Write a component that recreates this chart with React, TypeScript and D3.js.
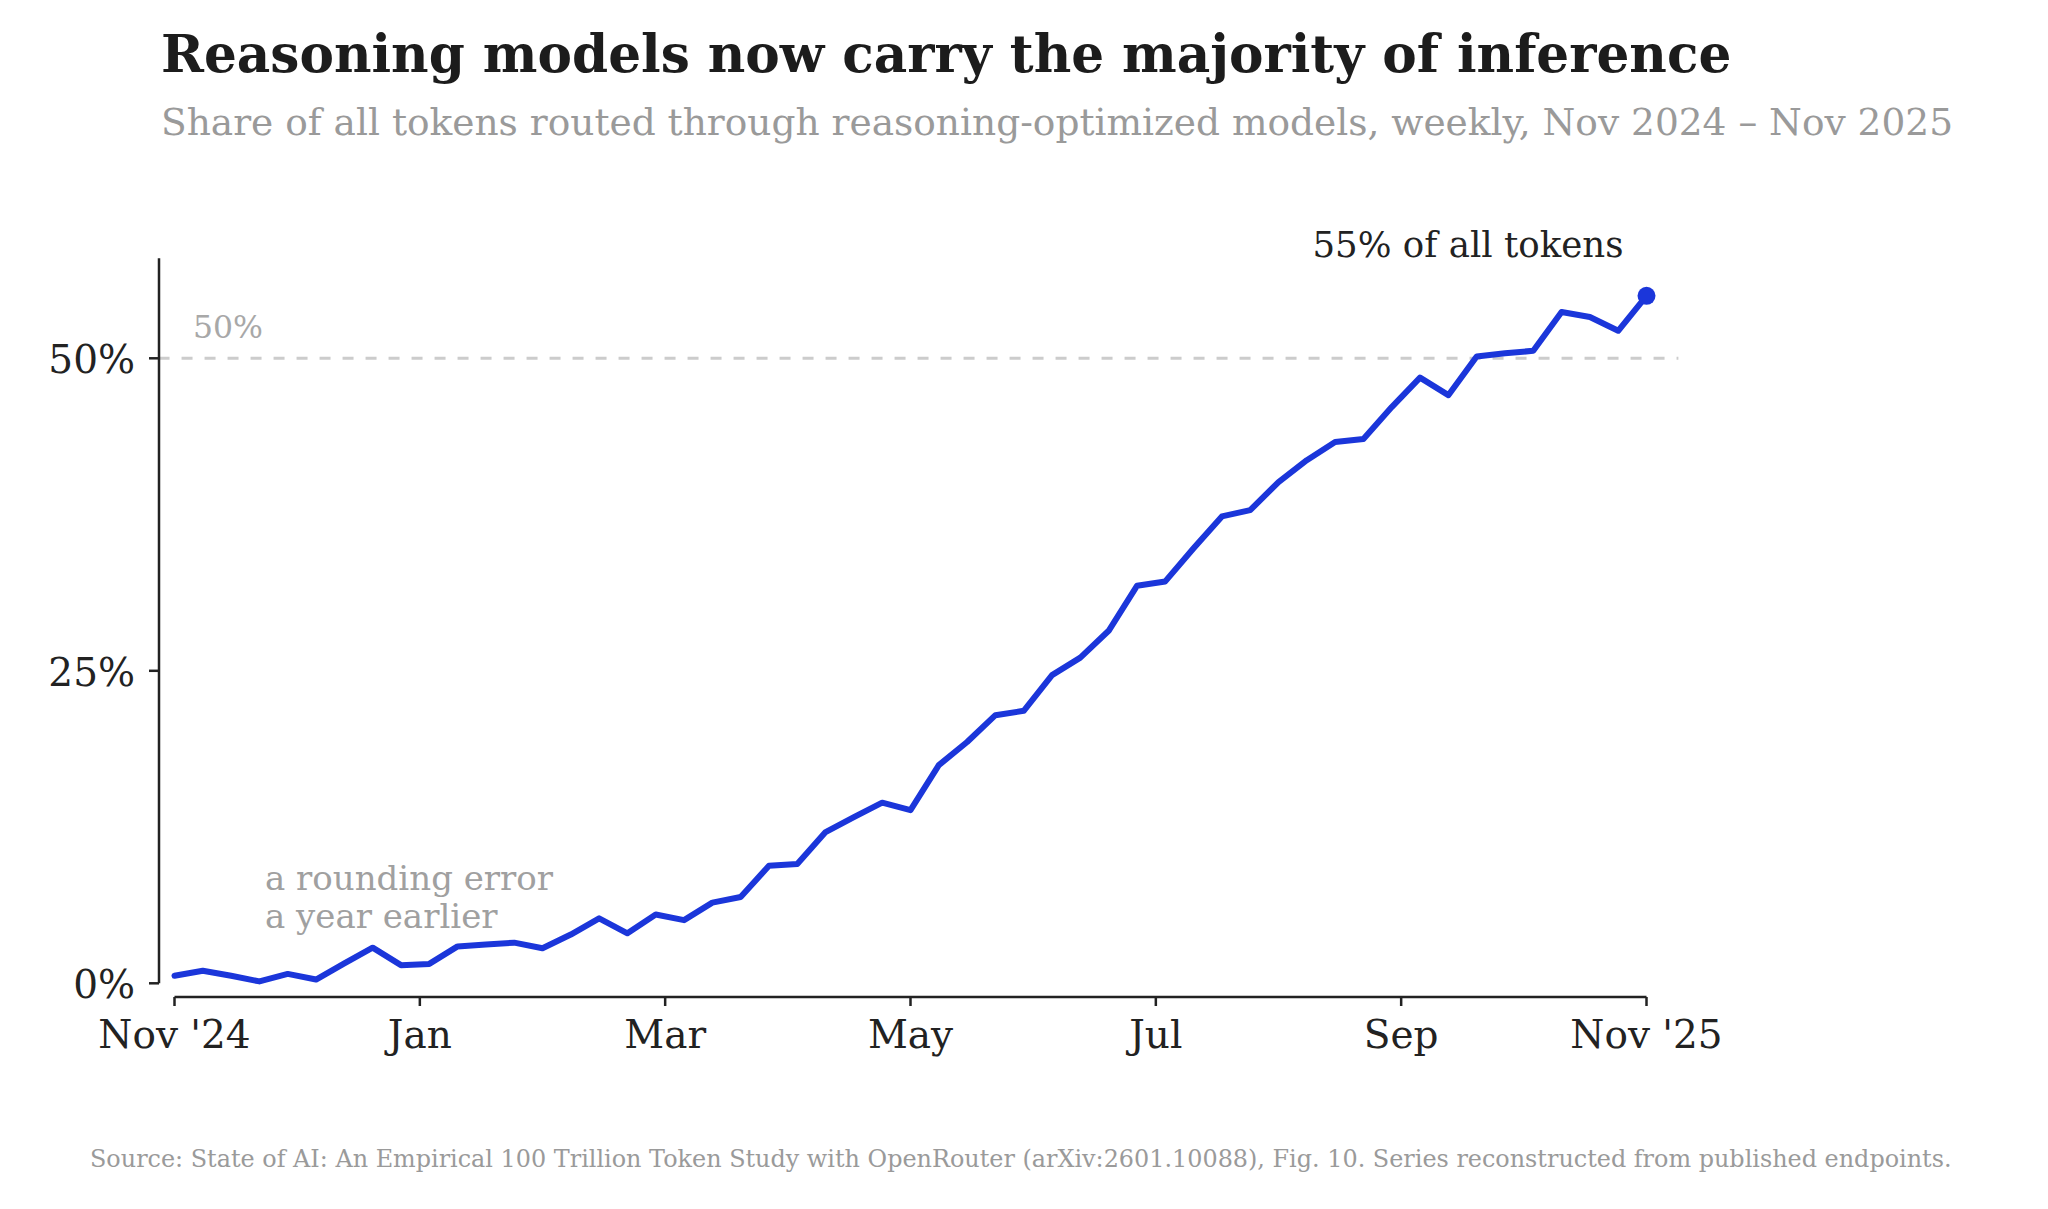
import { useEffect, useRef } from "react";
import { line, scaleLinear, select } from "d3";

// weekly share of tokens (%) on reasoning-optimized models, Nov 2024 -> Nov 2025
const shareValues = [
  0.6, 1.0, 0.6, 0.15, 0.75, 0.3, 1.6, 2.85, 1.45, 1.55, 2.95, 3.1, 3.25, 2.8,
  3.9, 5.2, 4.0, 5.5, 5.05, 6.45, 6.9, 9.4, 9.55, 12.1, 13.3, 14.45, 13.85,
  17.45, 19.3, 21.45, 21.8, 24.65, 26.05, 28.2, 31.8, 32.15, 34.8, 37.35, 37.85,
  40.1, 41.85, 43.3, 43.55, 46.1, 48.45, 47.05, 50.15, 50.4, 50.6, 53.7, 53.3,
  52.2, 55.0,
];

const monthTicks = [0, 2, 4, 6, 8, 10, 12];
const monthLabels = ["Nov '24", "Jan", "Mar", "May", "Jul", "Sep", "Nov '25"];
const yTicks = [0, 25, 50];

const TITLE = "Reasoning models now carry the majority of inference";
const SUBTITLE =
  "Share of all tokens routed through reasoning-optimized models, weekly, Nov 2024 \u2013 Nov 2025";
const SOURCE =
  "Source: State of AI: An Empirical 100 Trillion Token Study with OpenRouter (arXiv:2601.10088), Fig. 10. Series reconstructed from published endpoints.";

const W = 2048;
const H = 1209;
const FONT = "'DejaVu Serif', serif";
const BLUE = "#1b36da";

export default function App() {
  const svgRef = useRef<SVGSVGElement | null>(null);

  useEffect(() => {
    document.body.style.margin = "0";
    const svg = select(svgRef.current);
    svg.selectAll("*").remove();

    const weeks = shareValues.length - 1;
    // x in months, weekly points spread evenly over 12 months
    const x = scaleLinear().domain([0, 12]).range([174.5, 1646.5]);
    const y = scaleLinear().domain([0, 50]).range([983.3, 358.3]);
    const px = (i: number) => x((i * 12) / weeks);

    svg
      .append("text")
      .attr("x", 161)
      .attr("y", 72)
      .attr("font-family", FONT)
      .attr("font-weight", "bold")
      .attr("font-size", 51.7)
      .attr("fill", "#1c1c1c")
      .text(TITLE);

    svg
      .append("text")
      .attr("x", 161)
      .attr("y", 135)
      .attr("font-family", FONT)
      .attr("font-size", 37.5)
      .attr("fill", "#9a9a9a")
      .text(SUBTITLE);

    // reference line at 50%
    svg
      .append("line")
      .attr("x1", x(-0.13))
      .attr("x2", x(12.26))
      .attr("y1", y(50))
      .attr("y2", y(50))
      .attr("stroke", "#cccccc")
      .attr("stroke-width", 3)
      .attr("stroke-dasharray", "11 12");

    svg
      .append("text")
      .attr("x", 193)
      .attr("y", 338)
      .attr("font-family", FONT)
      .attr("font-size", 31.5)
      .attr("fill", "#a8a8a8")
      .text("50%");

    // y axis
    const axisColor = "#222";
    svg
      .append("line")
      .attr("x1", 159)
      .attr("x2", 159)
      .attr("y1", y(58))
      .attr("y2", y(0))
      .attr("stroke", axisColor)
      .attr("stroke-width", 2.5);

    const yt = svg.append("g");
    yt.selectAll("line")
      .data(yTicks)
      .join("line")
      .attr("x1", 149)
      .attr("x2", 159)
      .attr("y1", (d) => y(d))
      .attr("y2", (d) => y(d))
      .attr("stroke", axisColor)
      .attr("stroke-width", 2.5);
    yt.selectAll("text")
      .data(yTicks)
      .join("text")
      .attr("x", 135)
      .attr("y", (d) => y(d) + 15)
      .attr("text-anchor", "end")
      .attr("font-family", FONT)
      .attr("font-size", 39)
      .attr("fill", "#222")
      .text((d) => `${d}%`);

    // x axis
    svg
      .append("line")
      .attr("x1", x(0))
      .attr("x2", x(12))
      .attr("y1", 997)
      .attr("y2", 997)
      .attr("stroke", axisColor)
      .attr("stroke-width", 2.5);

    const xt = svg.append("g");
    xt.selectAll("line")
      .data(monthTicks)
      .join("line")
      .attr("x1", (d) => x(d))
      .attr("x2", (d) => x(d))
      .attr("y1", 997)
      .attr("y2", 1006)
      .attr("stroke", axisColor)
      .attr("stroke-width", 2.5);
    xt.selectAll("text")
      .data(monthTicks)
      .join("text")
      .attr("x", (d) => x(d))
      .attr("y", 1048)
      .attr("text-anchor", "middle")
      .attr("font-family", FONT)
      .attr("font-size", 39)
      .attr("fill", "#222")
      .text((_, i) => monthLabels[i]);

    // series
    const path = line<number>()
      .x((_, i) => px(i))
      .y((d) => y(d));

    svg
      .append("path")
      .datum(shareValues)
      .attr("d", path)
      .attr("fill", "none")
      .attr("stroke", BLUE)
      .attr("stroke-width", 6)
      .attr("stroke-linejoin", "round")
      .attr("stroke-linecap", "round");

    const last = shareValues[weeks];
    svg
      .append("circle")
      .attr("cx", px(weeks))
      .attr("cy", y(last))
      .attr("r", 9)
      .attr("fill", BLUE);

    svg
      .append("text")
      .attr("x", 1468)
      .attr("y", 257)
      .attr("text-anchor", "middle")
      .attr("font-family", FONT)
      .attr("font-size", 35.6)
      .attr("fill", "#222")
      .text(`${Math.round(last)}% of all tokens`);

    const note = svg
      .append("text")
      .attr("x", 265)
      .attr("y", 890)
      .attr("font-family", FONT)
      .attr("font-size", 34)
      .attr("fill", "#a0a0a0");
    note.append("tspan").attr("x", 265).text("a rounding error");
    note.append("tspan").attr("x", 265).attr("dy", 38).text("a year earlier");

    svg
      .append("text")
      .attr("x", 90)
      .attr("y", 1167)
      .attr("font-family", FONT)
      .attr("font-size", 23.9)
      .attr("fill", "#9a9a9a")
      .text(SOURCE);
  }, []);

  return (
    <svg
      ref={svgRef}
      width={W}
      height={H}
      viewBox={`0 0 ${W} ${H}`}
      style={{ display: "block", background: "#fff" }}
    />
  );
}
